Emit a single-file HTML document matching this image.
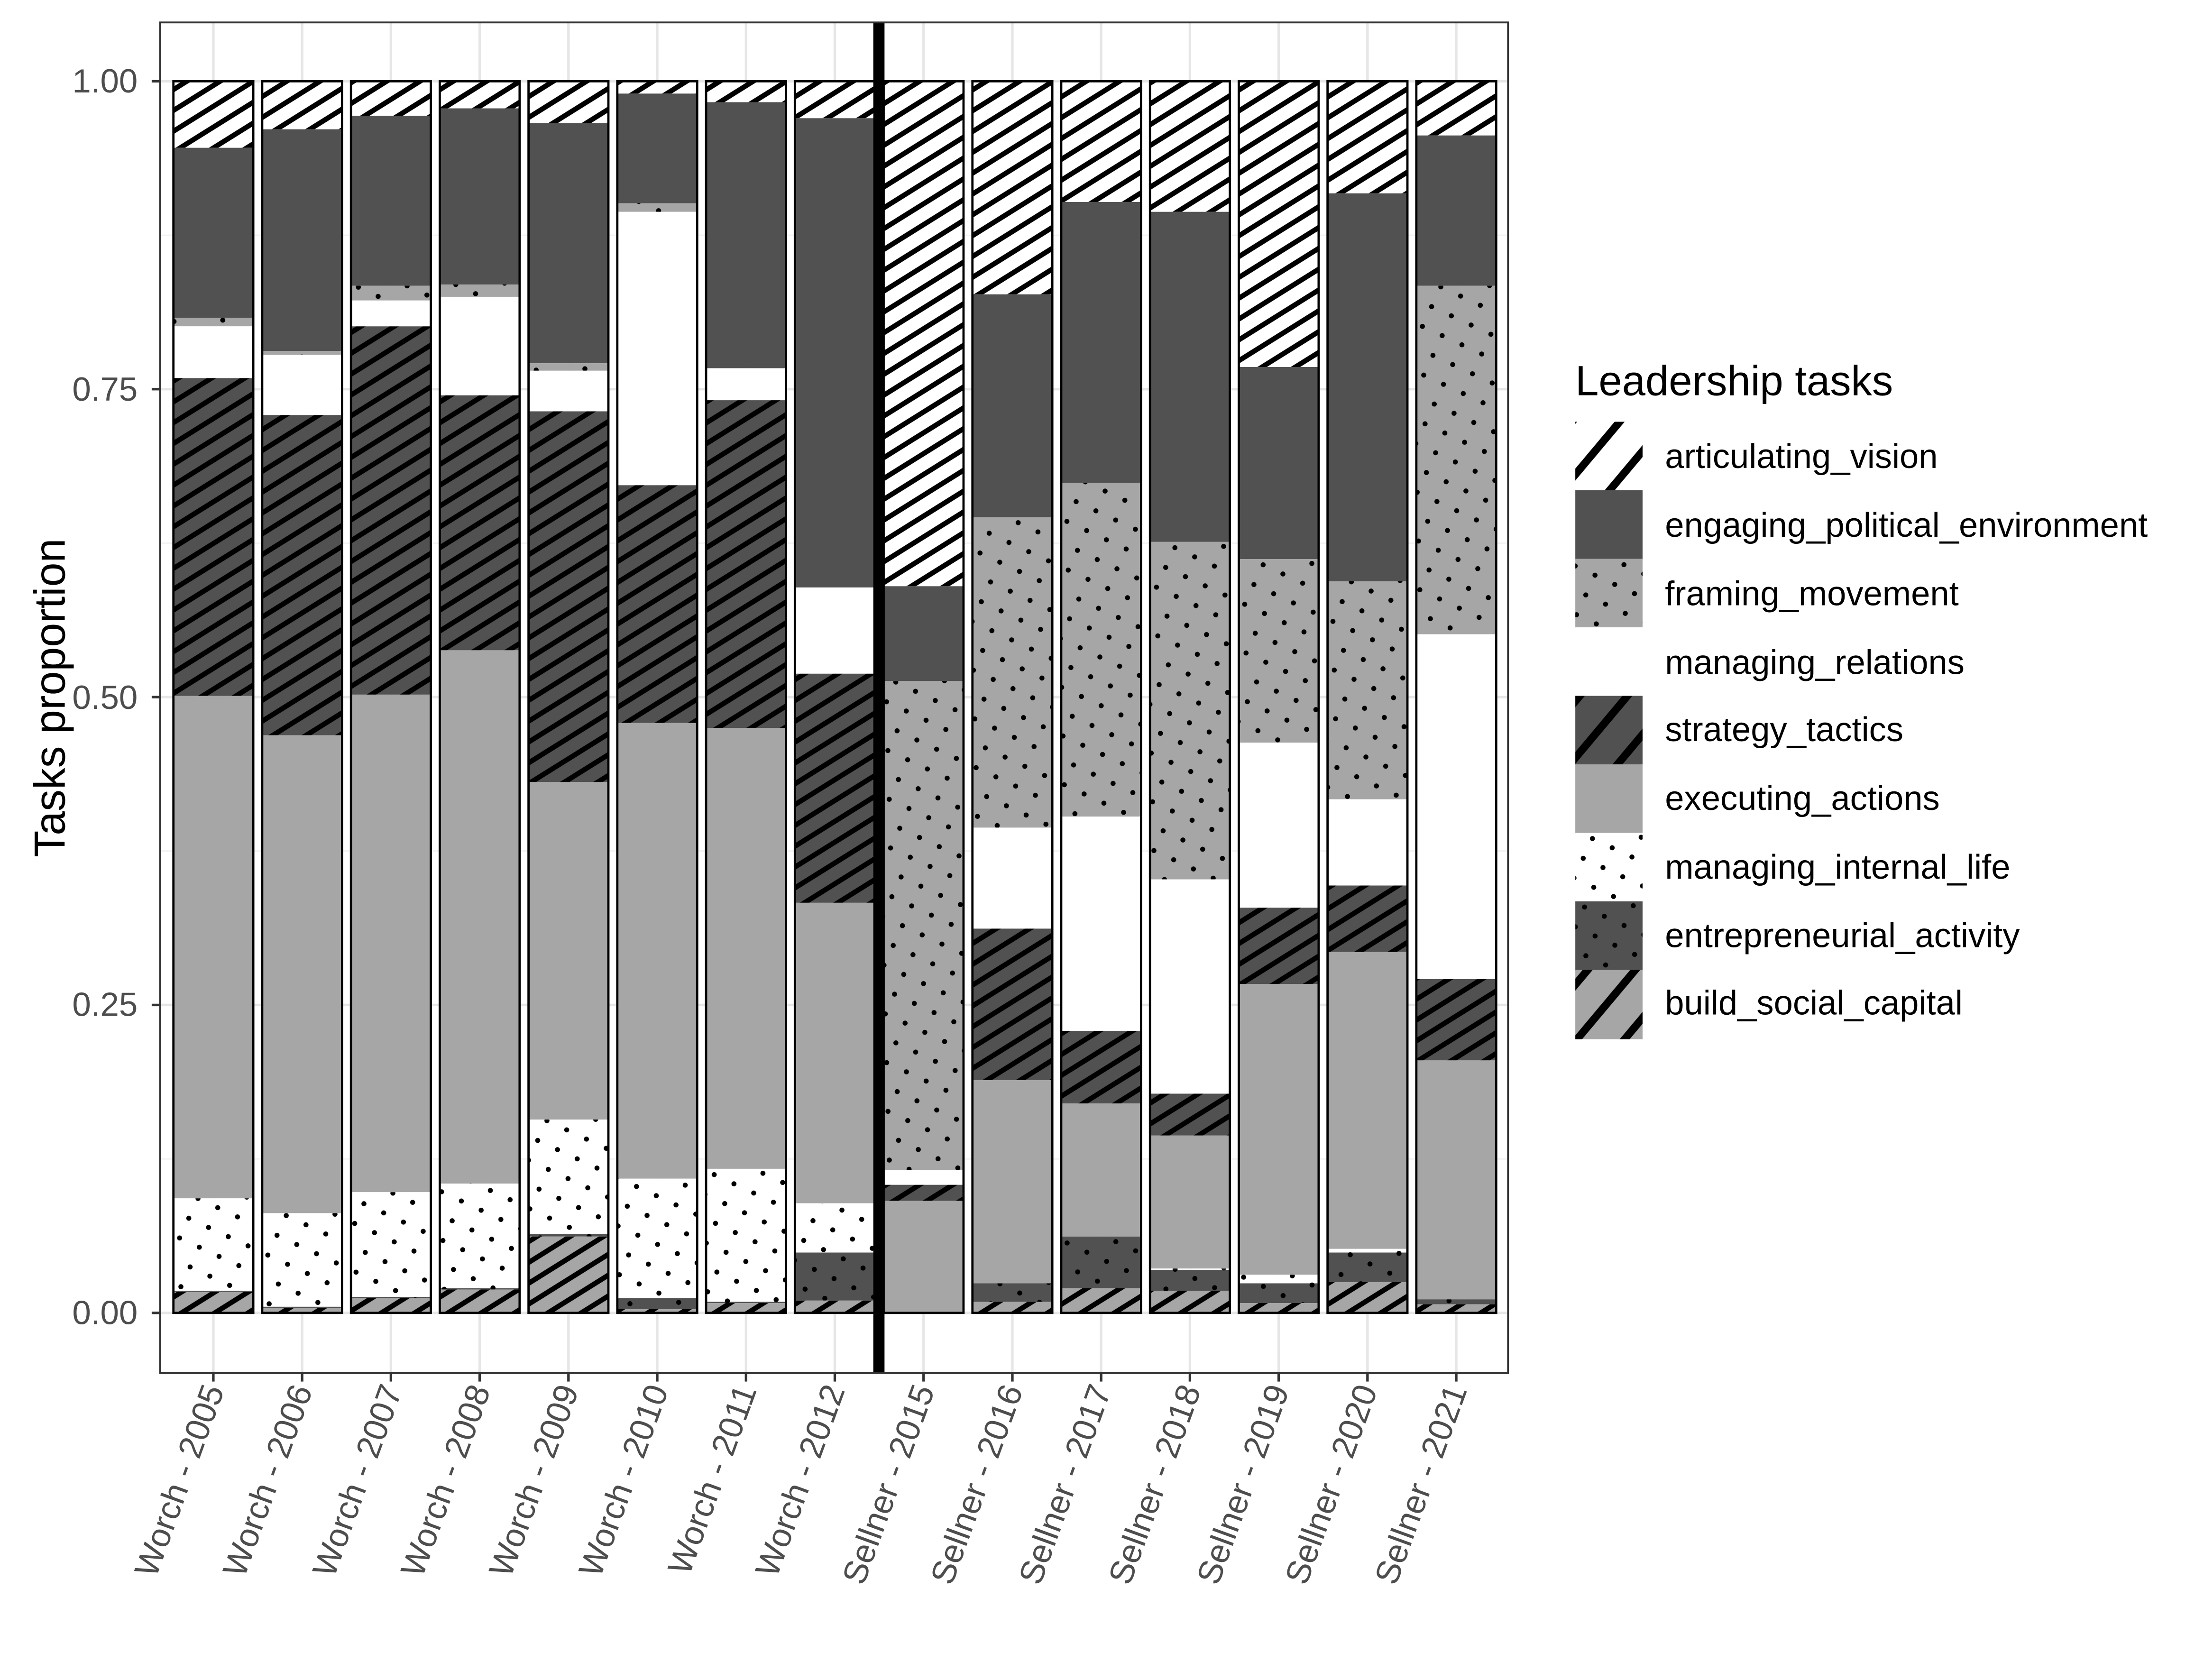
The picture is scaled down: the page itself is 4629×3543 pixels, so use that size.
<!DOCTYPE html>
<html><head><meta charset="utf-8"><style>
html,body{margin:0;padding:0;background:#fff;}
svg{display:block;}
text{font-family:"Liberation Sans",Arial,sans-serif;}
</style></head><body>
<svg id="s" width="4629" height="3543" viewBox="0 0 1566 1199" xmlns="http://www.w3.org/2000/svg">
<defs>
<pattern id="stW" patternUnits="userSpaceOnUse" width="40" height="12.6" patternTransform="rotate(-32)"><rect width="40" height="12.6" fill="#fff"/><rect y="4.5" width="40" height="3.6" fill="#000"/></pattern>
<pattern id="stD" patternUnits="userSpaceOnUse" width="40" height="12.6" patternTransform="rotate(-32)"><rect width="40" height="12.6" fill="#515151"/><rect y="4.5" width="40" height="3.6" fill="#000"/></pattern>
<pattern id="stG" patternUnits="userSpaceOnUse" width="40" height="12.6" patternTransform="rotate(-32)"><rect width="40" height="12.6" fill="#a6a6a6"/><rect y="4.5" width="40" height="3.6" fill="#000"/></pattern>
<pattern id="dtG" patternUnits="userSpaceOnUse" width="22" height="22" patternTransform="rotate(-20)"><rect width="22" height="22" fill="#a6a6a6"/><circle cx="5" cy="5" r="1.8" fill="#000"/><circle cx="16" cy="16" r="1.8" fill="#000"/></pattern>
<pattern id="dtW" patternUnits="userSpaceOnUse" width="22" height="22" patternTransform="rotate(-20)"><rect width="22" height="22" fill="#fff"/><circle cx="5" cy="5" r="1.8" fill="#000"/><circle cx="16" cy="16" r="1.8" fill="#000"/></pattern>
<pattern id="dtD" patternUnits="userSpaceOnUse" width="22" height="22" patternTransform="rotate(-20)"><rect width="22" height="22" fill="#515151"/><circle cx="5" cy="5" r="1.8" fill="#000"/><circle cx="16" cy="16" r="1.8" fill="#000"/></pattern>
<pattern id="lsW" patternUnits="userSpaceOnUse" width="40" height="26" patternTransform="rotate(-50)"><rect width="40" height="26" fill="#fff"/><rect y="10" width="40" height="5.5" fill="#000"/></pattern>
<pattern id="lsD" patternUnits="userSpaceOnUse" width="40" height="26" patternTransform="rotate(-50)"><rect width="40" height="26" fill="#515151"/><rect y="10" width="40" height="5.5" fill="#000"/></pattern>
<pattern id="lsG" patternUnits="userSpaceOnUse" width="40" height="26" patternTransform="rotate(-50)"><rect width="40" height="26" fill="#a6a6a6"/><rect y="10" width="40" height="5.5" fill="#000"/></pattern>
</defs>
<rect x="0" y="0" width="1566" height="1199" fill="#fff"/>
<g id="grid"></g>
<g id="bars"></g>
<rect x="623" y="16" width="8" height="964" fill="#000"/>
<rect x="114" y="16" width="962" height="964" fill="none" stroke="#333" stroke-width="1.3"/>
<g id="ticks"></g>
<g font-size="24" fill="#4d4d4d" text-anchor="end">
<text x="98" y="66">1.00</text>
<text x="98" y="286">0.75</text>
<text x="98" y="506">0.50</text>
<text x="98" y="725">0.25</text>
<text x="98" y="945">0.00</text>
</g>
<text x="0" y="0" font-size="31" fill="#000" text-anchor="middle" transform="translate(46,498) rotate(-90)">Tasks proportion</text>
<g font-size="24" fill="#4d4d4d" text-anchor="end">
<text transform="translate(160,992) rotate(-70)">Worch - 2005</text>
<text transform="translate(223,992) rotate(-70)">Worch - 2006</text>
<text transform="translate(287,992) rotate(-70)">Worch - 2007</text>
<text transform="translate(350,992) rotate(-70)">Worch - 2008</text>
<text transform="translate(413,992) rotate(-70)">Worch - 2009</text>
<text transform="translate(477,992) rotate(-70)">Worch - 2010</text>
<text transform="translate(540,992) rotate(-70)">Worch - 2011</text>
<text transform="translate(603,992) rotate(-70)">Worch - 2012</text>
<text transform="translate(667,992) rotate(-70)">Sellner - 2015</text>
<text transform="translate(730,992) rotate(-70)">Sellner - 2016</text>
<text transform="translate(793,992) rotate(-70)">Sellner - 2017</text>
<text transform="translate(857,992) rotate(-70)">Sellner - 2018</text>
<text transform="translate(920,992) rotate(-70)">Sellner - 2019</text>
<text transform="translate(983,992) rotate(-70)">Sellner - 2020</text>
<text transform="translate(1047,992) rotate(-70)">Sellner - 2021</text>
</g>
<text x="1124" y="282" font-size="30" fill="#000">Leadership tasks</text>
<g id="leg"></g>
<g font-size="24.5" fill="#000">
<text x="1188" y="334">articulating_vision</text>
<text x="1188" y="383">engaging_political_environment</text>
<text x="1188" y="432">framing_movement</text>
<text x="1188" y="481">managing_relations</text>
<text x="1188" y="529">strategy_tactics</text>
<text x="1188" y="578">executing_actions</text>
<text x="1188" y="627">managing_internal_life</text>
<text x="1188" y="676">entrepreneurial_activity</text>
<text x="1188" y="724">build_social_capital</text>
</g>
<script>
(function(){
var NS="http://www.w3.org/2000/svg";
function el(p,n,a){var e=document.createElementNS(NS,n);for(var k in a)e.setAttribute(k,a[k]);p.appendChild(e);return e;}
var y0=937,y1=58,H=y0-y1;function Y(v){return y0-v*H;}
var grid=document.getElementById('grid'),bars=document.getElementById('bars'),ticks=document.getElementById('ticks'),leg=document.getElementById('leg');
var cx=[];for(var i=0;i<15;i++)cx.push(152+i*63.36);
[0.125,0.375,0.625,0.875].forEach(function(v){el(grid,'line',{x1:114,x2:1076,y1:Y(v),y2:Y(v),stroke:'#f2f2f2','stroke-width':1});});
[0,0.25,0.5,0.75,1].forEach(function(v){el(grid,'line',{x1:114,x2:1076,y1:Y(v),y2:Y(v),stroke:'#e6e6e6','stroke-width':1.8});
 el(ticks,'line',{x1:108,x2:114,y1:Y(v),y2:Y(v),stroke:'#333','stroke-width':1.8});});
cx.forEach(function(x){el(grid,'line',{x1:x,x2:x,y1:16,y2:980,stroke:'#e6e6e6','stroke-width':1.8});
 el(ticks,'line',{x1:x,x2:x,y1:980,y2:986,stroke:'#333','stroke-width':1.8});});
var fills=['url(#stW)','#515151','url(#dtG)','#fff','url(#stD)','#a6a6a6','url(#dtW)','url(#dtD)','url(#stG)'];
var D=[
[0.946,0.808,0.801,0.759,0.501,0.093,0.018,0.017],
[0.961,0.781,0.778,0.729,0.469,0.081,0.005,0.004],
[0.972,0.834,0.822,0.801,0.502,0.098,0.013,0.012],
[0.978,0.835,0.825,0.745,0.538,0.105,0.020,0.019],
[0.966,0.771,0.765,0.732,0.431,0.157,0.064,0.062],
[0.990,0.901,0.894,0.672,0.479,0.109,0.012,0.003],
[0.983,0.767,0.767,0.741,0.475,0.117,0.009,0.008],
[0.970,0.589,0.589,0.519,0.333,0.089,0.049,0.010],
[0.590,0.513,0.116,0.104,0.091,0,0,0],
[0.827,0.646,0.394,0.312,0.189,0.024,0.024,0.009],
[0.902,0.674,0.403,0.229,0.170,0.062,0.062,0.020],
[0.894,0.626,0.352,0.178,0.144,0.036,0.035,0.018],
[0.768,0.612,0.463,0.329,0.267,0.031,0.024,0.008],
[0.909,0.594,0.417,0.347,0.293,0.052,0.049,0.025],
[0.956,0.834,0.551,0.271,0.205,0.011,0.011,0.007]];
D.forEach(function(b,i){var bw=57,x=cx[i]-bw/2;var bnd=[1].concat(b).concat([0]);
 for(var k=0;k<9;k++){var t=bnd[k],u=bnd[k+1];if(t-u<=0.0001)continue;
  el(bars,'rect',{x:x,y:Y(t),width:bw,height:Y(u)-Y(t),fill:fills[k]});}
 el(bars,'rect',{x:x,y:Y(1),width:bw,height:H,fill:'none',stroke:'#000','stroke-width':1.6});
});
var lf=['url(#lsW)','#515151','url(#dtG)','#fff','url(#lsD)','#a6a6a6','url(#dtW)','url(#dtD)','url(#lsG)'];
for(var k=0;k<9;k++){el(leg,'rect',{x:1124,y:301+k*48.9,width:48,height:49.5,fill:lf[k]});}
})();
</script>
</svg>
</body></html>
